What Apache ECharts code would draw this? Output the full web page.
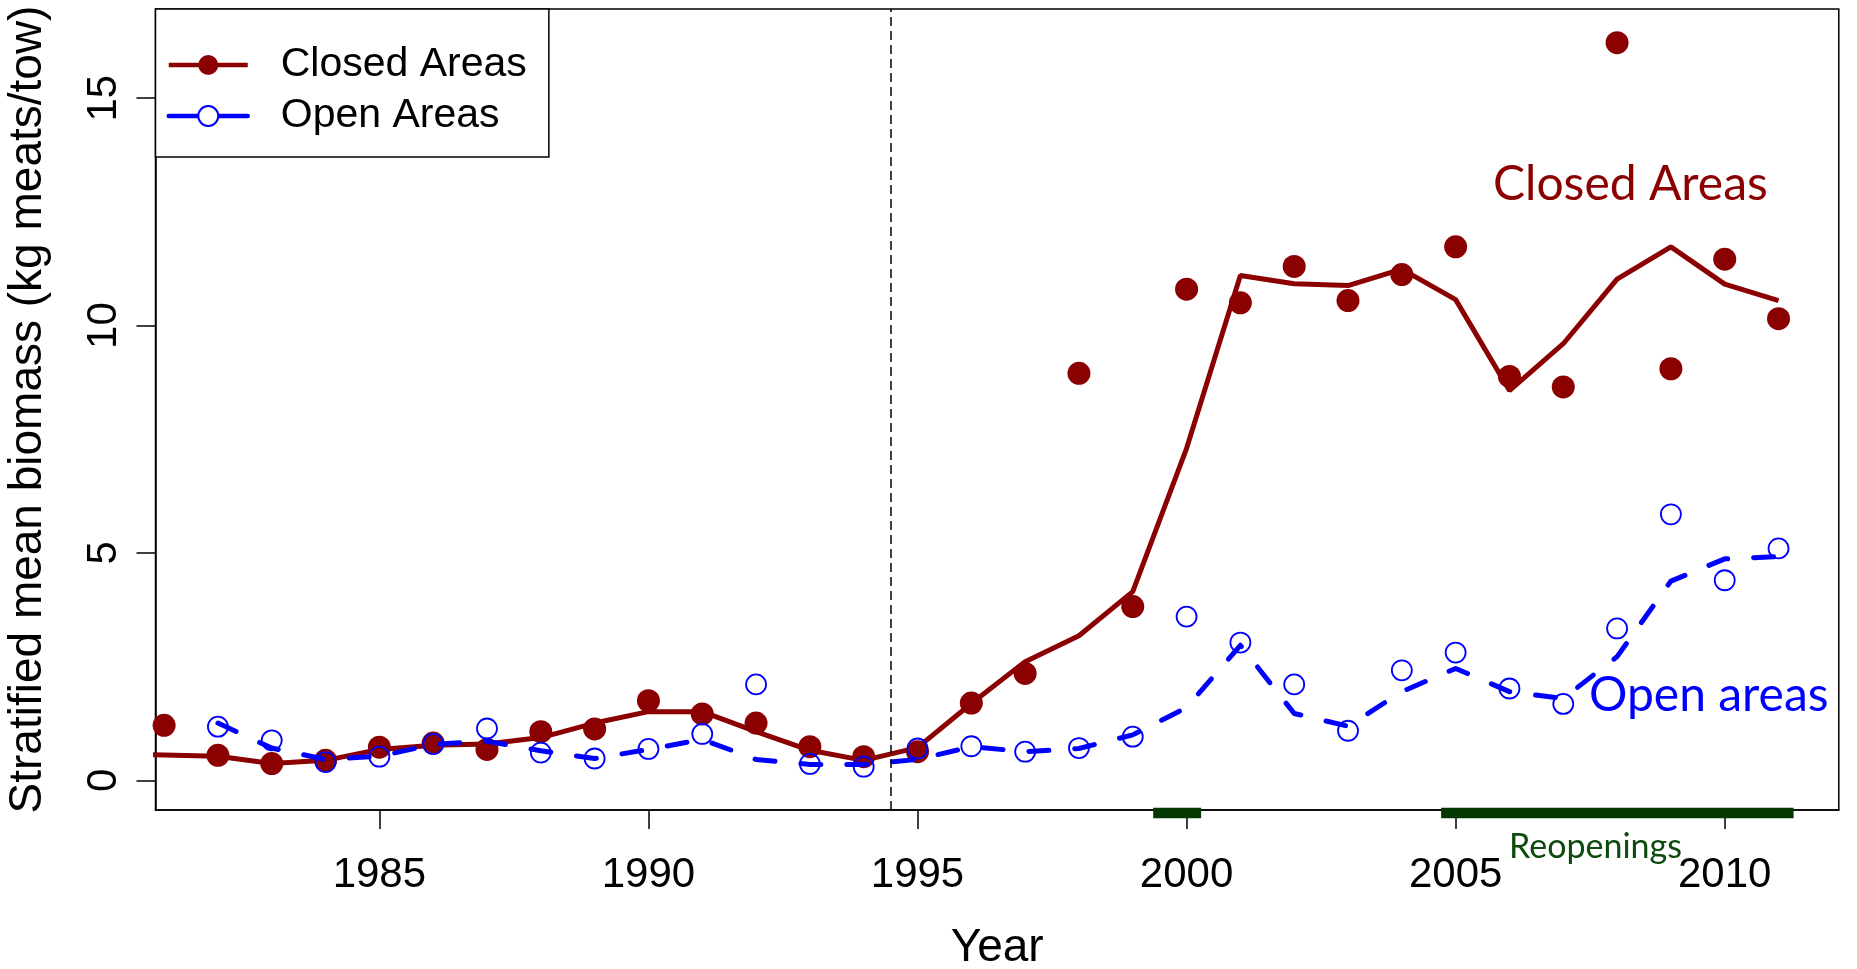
<!DOCTYPE html>
<html>
<head>
<meta charset="utf-8">
<script src="https://cdn.jsdelivr.net/npm/echarts@6/dist/echarts.min.js"></script>
<style>
html,body{margin:0;padding:0;background:#fff;}
#chart{width:1857px;height:969px;}
</style>
</head>
<body>
<div id="chart"></div>
<script>
// ---------- data ----------
const obsYears = [1981,1982,1983,1984,1985,1986,1987,1988,1989,1990,1991,1992,1993,1994,1995,1996,1997,1998,1999,2000,2001,2002,2003,2004,2005,2006,2007,2008,2009,2010,2011];
const closedObs = [1.21,0.55,0.37,0.44,0.73,0.82,0.68,1.07,1.13,1.75,1.46,1.26,0.74,0.52,0.63,1.70,2.35,8.95,3.82,10.80,10.50,11.30,10.55,11.12,11.73,8.88,8.65,16.22,9.05,11.46,10.15];

const closedFitYears = [1980,1981,1982,1983,1984,1985,1986,1987,1988,1989,1990,1991,1992,1993,1994,1995,1996,1997,1998,1999,2000,2001,2002,2003,2004,2005,2006,2007,2008,2009,2010,2011];
const closedFit = [0.58,0.56,0.53,0.37,0.44,0.68,0.77,0.80,0.94,1.26,1.51,1.51,1.07,0.66,0.44,0.72,1.69,2.61,3.18,4.15,7.30,11.10,10.92,10.88,11.24,10.57,8.57,9.60,11.02,11.73,10.91,10.55];

const openYears = [1982,1983,1984,1985,1986,1987,1988,1989,1990,1991,1992,1993,1994,1995,1996,1997,1998,1999,2000,2001,2002,2003,2004,2005,2006,2007,2008,2009,2010,2011];
const openObs = [1.18,0.88,0.40,0.52,0.80,1.14,0.61,0.48,0.69,1.02,2.11,0.36,0.30,0.70,0.75,0.63,0.71,0.96,3.60,3.03,2.11,1.09,2.42,2.81,2.02,1.68,3.34,5.85,4.40,5.10];
const openFit = [1.26,0.71,0.46,0.53,0.79,0.86,0.65,0.48,0.68,0.90,0.46,0.35,0.35,0.46,0.74,0.63,0.70,1.00,1.60,2.97,1.47,1.19,1.95,2.46,1.95,1.80,2.72,4.38,4.87,4.92];

const reopenStart = [1999.38, 2004.73];
const reopenEnd   = [2000.27, 2011.28];
const closureYear = 1994.5;

const xTicks = [1985,1990,1995,2000,2005,2010];
const yTicks = [0,5,10,15];
const xMin = 1980.84, xMax = 2012.12;
const yMin = -0.652, yMax = 16.96;

const seriesNames = ['Closed Areas','Open Areas'];
const yTitle = 'Stratified mean biomass (kg meats/tow)';
const xTitle = 'Year';

// ---------- chart ----------
const RED = '#8B0000', BLUE = '#0000FF', GREEN = '#033803';
const AX = 'Liberation Sans, Arial, sans-serif';
const pair = (xs, ys) => xs.map((x, i) => [x, ys[i]]);

const chart = echarts.init(document.getElementById('chart'), null, {renderer: 'canvas'});
chart.setOption({
  animation: false,
  backgroundColor: '#fff',
  grid: {
    left: 155.5, right: 18.2, top: 9, bottom: 159,
    containLabel: false, outerBoundsMode: 'none',
    show: true, borderColor: '#000', borderWidth: 1.5, backgroundColor: 'transparent'
  },
  legend: {
    data: seriesNames,
    orient: 'vertical', left: 155.5, top: 9,
    padding: [35.5, 22, 20.5, 11],
    itemWidth: 79, itemHeight: 25, itemGap: 10,
    borderColor: '#000', borderWidth: 1.5, borderRadius: 0, backgroundColor: '#fff',
    selectedMode: false,
    lineStyle: {type: 'solid', width: 4.5},
    textStyle: {fontSize: 41, color: '#000', fontFamily: AX, padding: [0, 0, 0, 28]}
  },
  xAxis: {
    type: 'value', min: xMin, max: xMax,
    splitLine: {show: false},
    axisLine: {show: true, onZero: false, lineStyle: {color: '#000', width: 1.5}},
    axisTick: {show: true, customValues: xTicks, length: 19, lineStyle: {color: '#000', width: 1.5}},
    axisLabel: {customValues: xTicks, fontSize: 42, color: '#000', fontFamily: AX, margin: 44,
                formatter: v => String(Math.round(v))},
    name: xTitle, nameLocation: 'middle', nameGap: 115,
    nameTextStyle: {fontSize: 46, color: '#000', fontFamily: AX}
  },
  yAxis: {
    type: 'value', min: yMin, max: yMax,
    splitLine: {show: false},
    axisLine: {show: true, onZero: false, lineStyle: {color: '#000', width: 1.5}},
    axisTick: {show: true, customValues: yTicks, length: 19, lineStyle: {color: '#000', width: 1.5}},
    axisLabel: {customValues: yTicks, rotate: 90, fontSize: 42, color: '#000', fontFamily: AX, margin: 30,
                formatter: v => String(Math.round(v))},
    name: yTitle, nameLocation: 'middle', nameGap: 104, nameRotate: 90,
    nameTextStyle: {fontSize: 46, color: '#000', fontFamily: AX}
  },
  series: [
    {
      name: seriesNames[0], type: 'line', data: pair(closedFitYears, closedFit),
      symbol: 'circle', showSymbol: false, symbolSize: 23,
      lineStyle: {color: RED, width: 5}, itemStyle: {color: RED, opacity: 1},
      silent: true, z: 2,
      markLine: {
        silent: true, symbol: ['none','none'], label: {show: false},
        lineStyle: {color: '#000', type: [9, 5], width: 1.5},
        data: [{xAxis: closureYear}]
      }
    },
    {
      name: seriesNames[0], type: 'scatter', data: pair(obsYears, closedObs),
      symbol: 'circle', symbolSize: 23, itemStyle: {color: RED, opacity: 1}, silent: true, z: 3
    },
    {
      name: seriesNames[1], type: 'line', data: pair(openYears, openFit),
      symbol: 'emptyCircle', showSymbol: false, symbolSize: 20,
      lineStyle: {color: BLUE, width: 5, type: [20, 26], cap: 'round', join: 'round'},
      itemStyle: {color: BLUE, opacity: 1}, silent: true, z: 4
    },
    {
      name: seriesNames[1], type: 'scatter', data: pair(openYears, openObs),
      symbol: 'circle', symbolSize: 20,
      itemStyle: {color: 'rgba(0,0,0,0)', borderColor: BLUE, borderWidth: 1.8, opacity: 1},
      silent: true, z: 4
    },
    {
      name: 'Reopenings', type: 'custom', coordinateSystem: 'cartesian2d', clip: false, silent: true, z: 5,
      data: reopenStart.map((s, i) => [s, reopenEnd[i]]),
      encode: {x: [0, 1]},
      renderItem: function (params, api) {
        const p0 = api.coord([api.value(0), yMin]);
        const p1 = api.coord([api.value(1), yMin]);
        return {type: 'rect', shape: {x: p0[0], y: p0[1] - 2.3, width: p1[0] - p0[0], height: 10.6}, style: {fill: GREEN}};
      }
    }
  ],
  graphic: [
    {type: 'text', x: 1493, y: 185, z: 10, silent: true,
     style: {text: 'Closed Areas', fill: RED, font: '48px Lato', textAlign: 'left', textVerticalAlign: 'middle', verticalAlign: 'middle'}},
    {type: 'text', x: 1589, y: 696, z: 10, silent: true,
     style: {text: 'Open areas', fill: BLUE, font: '48px Lato', textAlign: 'left', textVerticalAlign: 'middle', verticalAlign: 'middle'}},
    {type: 'text', x: 1509, y: 847, z: 10, silent: true,
     style: {text: 'Reopenings', fill: '#0d4a0d', font: '34px Lato', textAlign: 'left', textVerticalAlign: 'middle', verticalAlign: 'middle'}}
  ]
});
</script>
</body>
</html>
